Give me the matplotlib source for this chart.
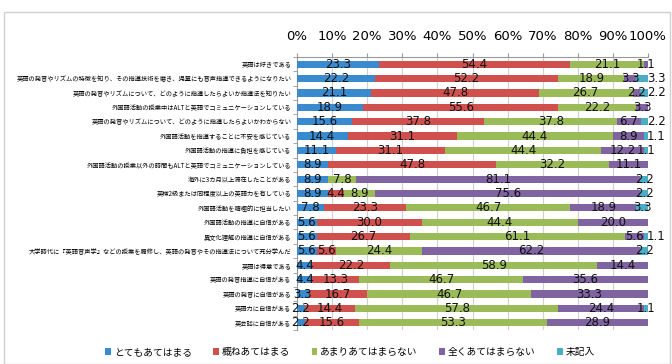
import matplotlib
matplotlib.use("Agg")
import matplotlib.pyplot as plt
import matplotlib.patches as mpatches
import numpy as np

plt.rcParams['font.family'] = ['Noto Sans CJK JP', 'DejaVu Sans']

categories = [
    "英語は好きである",
    "英語の発音やリズムの特徴を知り、その指導技術を磨き、児童にも音声指導できるようになりたい",
    "英語の発音やリズムについて、どのように指導したらよいか指導法を知りたい",
    "外国語活動の授業中はALTと英語でコミュニケーションしている",
    "英語の発音やリズムについて、どのように指導したらよいかわからない",
    "外国語活動を指導することに不安を感じている",
    "外国語活動の指導に負担を感じている",
    "外国語活動の授業以外の時間もALTと英語でコミュニケーションしている",
    "海外に3カ月以上滞在したことがある",
    "英検2級または同程度以上の英語力を有している",
    "外国語活動を積極的に担当したい",
    "外国語活動の指導に自信がある",
    "異文化理解の指導に自信がある",
    "大学時代に『英語音声学』などの授業を履修し、英語の発音やその指導法について充分学んだ",
    "英語は得意である",
    "英語の発音指導に自信がある",
    "英語の発音に自信がある",
    "英語力に自信がある",
    "英会話に自信がある",
]

series_names = ["とてもあてはまる", "概ねあてはまる", "あまりあてはまらない", "全くあてはまらない", "未記入"]

very_true = [23.3, 22.2, 21.1, 18.9, 15.6, 14.4, 11.1, 8.9, 8.9, 8.9, 7.8, 5.6, 5.6, 5.6, 4.4, 4.4, 3.3, 2.2, 2.2]
mostly_true = [54.4, 52.2, 47.8, 55.6, 37.8, 31.1, 31.1, 47.8, 0.0, 4.4, 23.3, 30.0, 26.7, 5.6, 22.2, 13.3, 16.7, 14.4, 15.6]
not_much = [21.1, 18.9, 26.7, 22.2, 37.8, 44.4, 44.4, 32.2, 7.8, 8.9, 46.7, 44.4, 61.1, 24.4, 58.9, 46.7, 46.7, 57.8, 53.3]
not_at_all = [1.1, 3.3, 2.2, 3.3, 6.7, 8.9, 12.2, 11.1, 81.1, 75.6, 18.9, 20.0, 5.6, 62.2, 14.4, 35.6, 33.3, 24.4, 28.9]
no_answer = [0.0, 3.3, 2.2, 0.0, 2.2, 1.1, 1.1, 0.0, 2.2, 2.2, 3.3, 0.0, 1.1, 2.2, 0.0, 0.0, 0.0, 1.1, 0.0]

xticks = [0, 10, 20, 30, 40, 50, 60, 70, 80, 90, 100]
xtick_labels = ["0%", "10%", "20%", "30%", "40%", "50%", "60%", "70%", "80%", "90%", "100%"]

colors = ["#3A8AD0", "#D0504D", "#9BBB59", "#8064A2", "#4BACC6"]

W, H = 672, 364
fig = plt.figure(figsize=(W / 100, H / 100), dpi=100)
ax = fig.add_axes([297 / W, 1 - 330 / H, (648 - 297) / W, (330 - 57) / H])

data = [very_true, mostly_true, not_much, not_at_all, no_answer]
y = np.arange(len(categories))
left = np.zeros(len(categories))
for si, (vals, col, name) in enumerate(zip(data, colors, series_names)):
    vals = np.array(vals)
    ax.barh(y, vals, left=left, height=0.5, color=col, label=name, zorder=3)
    for i, v in enumerate(vals):
        if v <= 0:
            continue
        cx = left[i] + v / 2
        if si == 4 and not_at_all[i] < 10:
            cx = 102.3
        ax.text(cx, y[i], f"{v:.1f}", ha="center", va="center", fontsize=8.5,
                color="#111111", zorder=5, family=['DejaVu Sans'])
    left += vals

ax.set_xlim(0, 100)
ax.set_ylim(len(categories) - 0.5, -0.5)
ax.xaxis.tick_top()
ax.set_xticks(xticks)
ax.set_xticklabels(xtick_labels, fontsize=9.5, family=['DejaVu Sans'])
ax.tick_params(axis='x', length=3, color="#999999", pad=7)
ax.set_yticks(y)
ax.set_yticklabels(categories, fontsize=4.5)
ax.tick_params(axis='y', length=0, pad=4)
ax.set_yticks(np.arange(-0.5, len(categories), 1), minor=True)
ax.tick_params(axis='y', which='minor', length=3, color="#999999")
ax.grid(axis='x', color="#D0D0D0", linewidth=0.8, zorder=0)
for s in ['right', 'bottom']:
    ax.spines[s].set_visible(False)
ax.spines['top'].set_color("#999999")
ax.spines['left'].set_color("#999999")

fig.legend(loc='center', bbox_to_anchor=(350 / W, 1 - 352 / H), ncol=5, frameon=False,
           fontsize=7, handlelength=0.6, handleheight=0.6, handletextpad=0.3, columnspacing=2.2)

fig.patches.append(mpatches.Rectangle((4 / W, 0), (670 - 4) / W, 1 - 12 / H, transform=fig.transFigure,
                                      fill=False, edgecolor="#D0D0D0", linewidth=1))

fig.savefig("out.png", dpi=100)
